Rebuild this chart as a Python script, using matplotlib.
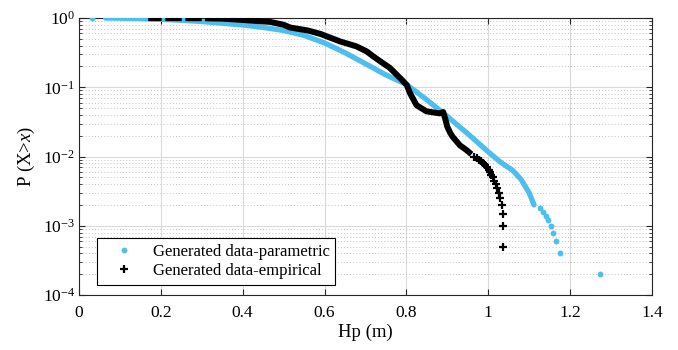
import numpy as np
import matplotlib.pyplot as plt
from matplotlib.ticker import LogLocator, NullLocator, NullFormatter

plt.rcParams['font.family'] = ['Liberation Serif', 'DejaVu Serif']
plt.rcParams['mathtext.fontset'] = 'custom'
plt.rcParams['mathtext.rm'] = 'Liberation Serif'
plt.rcParams['mathtext.it'] = 'Liberation Serif:italic'

# parametric: dense part (markers overlap into a band) + separated points
par_x_dense = [0.065, 0.10, 0.15, 0.20, 0.25, 0.30, 0.35, 0.40, 0.45, 0.50, 0.55,
               0.60, 0.65, 0.70, 0.75, 0.80, 0.85, 0.90, 0.95, 1.00, 1.03, 1.06,
               1.08, 1.10, 1.112]
par_p_dense = [1.0, 0.995, 0.982, 0.959, 0.929, 0.891, 0.841, 0.794, 0.733, 0.661,
               0.562, 0.437, 0.316, 0.219, 0.151, 0.110, 0.066, 0.038, 0.0214,
               0.0117, 0.0083, 0.0063, 0.0047, 0.0030, 0.0020]
par_x_pts = [0.031, 1.126, 1.133, 1.141, 1.147, 1.153, 1.159, 1.165, 1.175, 1.274]
par_p_pts = [1.0, 1.8e-3, 1.6e-3, 1.4e-3, 1.2e-3, 1.0e-3, 8e-4, 6e-4, 4e-4, 2e-4]

# empirical: clusters near p=1 (nan = gap), dense band, then separated points
emp_x_dense = [0.169, 0.202, np.nan, 0.211, 0.251, np.nan, 0.260, 0.300, np.nan,
               0.308, 0.35, 0.393, 0.43, 0.467, 0.50, 0.516, 0.56, 0.59, 0.638,
               0.678, 0.703, 0.719, 0.735, 0.760, 0.788, 0.801, 0.809, 0.825,
               0.849, 0.870, 0.882, 0.890, 0.895, 0.900, 0.907, 0.914, 0.931,
               0.947, 0.959]
emp_p_dense = [0.998, 0.998, np.nan, 0.997, 0.997, np.nan, 0.995, 0.995, np.nan,
               0.993, 0.98, 0.945, 0.91, 0.88, 0.80, 0.73, 0.66, 0.59, 0.46,
               0.39, 0.33, 0.28, 0.24, 0.19, 0.13, 0.108, 0.082, 0.055,
               0.045, 0.043, 0.042, 0.044, 0.035, 0.027, 0.022, 0.019, 0.0145,
               0.0124, 0.0108]
emp_x_pts = [0.965, 0.972, 0.978, 0.983, 0.987, 0.992, 0.997, 1.002, 1.005, 1.008,
             1.011, 1.015, 1.019, 1.022, 1.026, 1.030, 1.033, 1.036, 1.037, 1.036]
emp_p_pts = [1.0e-2, 9.5e-3, 9e-3, 8.5e-3, 8e-3, 7.5e-3, 7e-3, 6.5e-3, 6e-3, 5.5e-3,
             5e-3, 4.5e-3, 4e-3, 3.5e-3, 3e-3, 2.5e-3, 2e-3, 1.5e-3, 1e-3, 5e-4]

x_ticks = [0, 0.2, 0.4, 0.6, 0.8, 1.0, 1.2, 1.4]
x_tick_labels = ['0', '0.2', '0.4', '0.6', '0.8', '1', '1.2', '1.4']

cyan = '#4DBEEE'

fig = plt.figure(figsize=(6.78, 3.5), dpi=100)
ax = fig.add_axes([0.1165, 0.157, 0.845, 0.7914])

ax.plot(par_x_dense, par_p_dense, '-', color=cyan, lw=3.8, solid_capstyle='round', zorder=3)
ax.plot(par_x_pts, par_p_pts, 'o', color=cyan, ms=4.2, mec='none', zorder=3,
        label='Generated data-parametric')
ax.plot(emp_x_dense, emp_p_dense, '-', color='k', lw=4.3, solid_capstyle='butt', zorder=4)
ax.plot(emp_x_pts, emp_p_pts, '+', color='k', ms=6, mew=1.6, zorder=4,
        label='Generated data-empirical')

ax.set_yscale('log')
ax.set_xlim(0, 1.4)
ax.set_ylim(1e-4, 1)
ax.set_xticks(x_ticks)
ax.set_xticklabels(x_tick_labels)
ax.xaxis.set_minor_locator(NullLocator())
ax.yaxis.set_major_locator(LogLocator(base=10, numticks=10))
ax.yaxis.set_minor_locator(LogLocator(base=10, subs=np.arange(2, 10), numticks=20))
ax.yaxis.set_minor_formatter(NullFormatter())

ax.tick_params(which='both', direction='in', top=True, right=True, labelsize=12.5,
               color='#262626')
ax.tick_params(which='major', length=4, width=0.8, pad=7)
ax.tick_params(axis='y', which='major', pad=3)
ax.tick_params(which='minor', length=2.5, width=0.6)

ax.grid(which='major', color='#dadada', lw=0.8, ls='-')
ax.grid(which='minor', axis='y', color='#c4c4c4', lw=0.7, ls=(0, (1, 2.2)))
ax.set_axisbelow(True)

for s in ax.spines.values():
    s.set_color('#262626')
    s.set_linewidth(0.8)

ax.set_xlabel('Hp (m)', fontsize=13.5, labelpad=2)
ax.set_ylabel('P (X>$\\mathit{x}$)', fontsize=13.5, labelpad=4)

leg = ax.legend(loc='lower left', bbox_to_anchor=(0.031, 0.036), borderaxespad=0,
                fancybox=False, edgecolor='k', framealpha=1, fontsize=12,
                handlelength=2.6, handletextpad=0.4, borderpad=0.35,
                labelspacing=0.2, numpoints=1)
leg.get_frame().set_linewidth(0.8)

fig.savefig('out.png', dpi=100)
